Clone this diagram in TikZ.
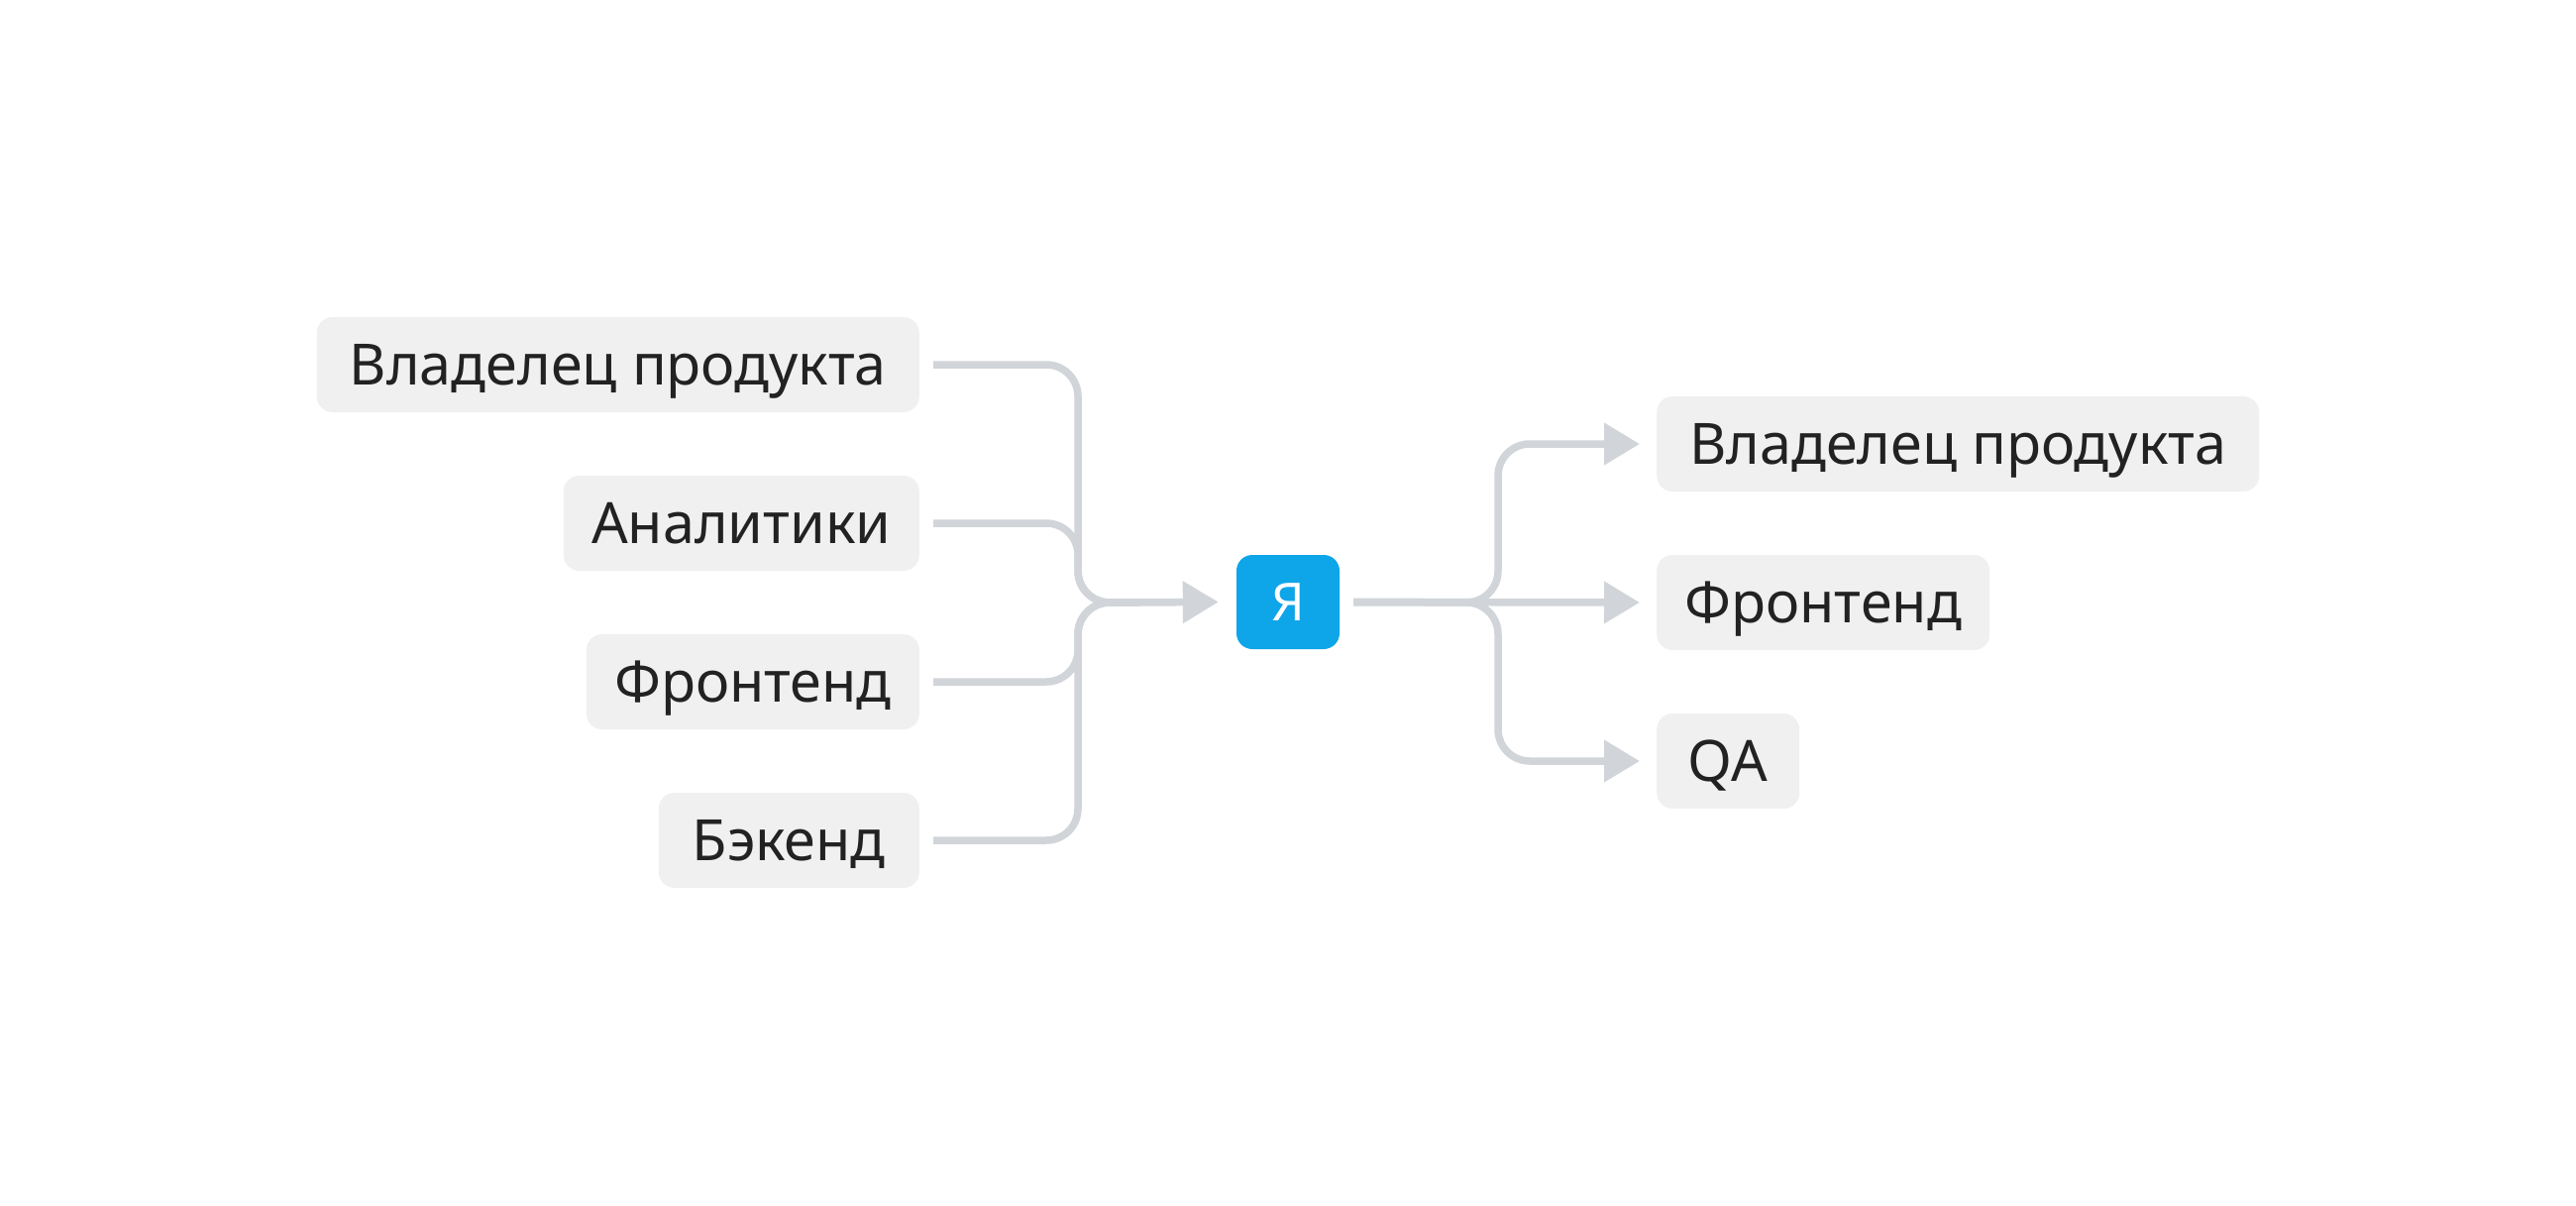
\documentclass[tikz,border=0pt]{standalone}
\usepackage{fontspec}
\setmainfont{Noto Sans}
\usetikzlibrary{arrows.meta,calc}
\definecolor{boxfill}{HTML}{F0F0F0}
\definecolor{linegray}{HTML}{D1D5D9}
\definecolor{txt}{HTML}{222222}
\definecolor{meblue}{HTML}{0EA5E9}
\tikzset{
  rolebox/.style={fill=boxfill, rounded corners=16pt, inner sep=0pt, minimum height=96pt,
    text=txt, font=\fontsize{57.5pt}{62pt}\selectfont, text height=41pt, text depth=0pt, align=center},
  mebox/.style={fill=meblue, rounded corners=16pt, inner sep=0pt, minimum width=104pt, minimum height=95pt,
    text=white, font=\fontsize{53pt}{56pt}\selectfont, text height=38pt, text depth=0pt},
  conn/.style={draw=linegray, line width=7.5pt, rounded corners=32pt,
    -{Triangle[length=36pt,width=41pt]}},
  connplain/.style={draw=linegray, line width=7.5pt, rounded corners=32pt},
}
\begin{document}
\begin{tikzpicture}[x=1pt,y=-1pt]
\fill[white] (0,0) rectangle (2600,1216);
\useasboundingbox (0,0) rectangle (2600,1216);

% left boxes
\node[rolebox, minimum width=608pt, anchor=east] (L1) at (928,368) {Владелец продукта};
\node[rolebox, minimum width=359pt, anchor=east] (L2) at (928,528) {Аналитики};
\node[rolebox, minimum width=336pt, anchor=east] (L3) at (928,688) {Фронтенд};
\node[rolebox, minimum width=263pt, anchor=east] (L4) at (928,848) {Бэкенд};

% centre
\node[mebox] (me) at (1300,607.5) {Я};

% right boxes
\node[rolebox, minimum width=608pt, anchor=west] (R1) at (1672,448) {Владелец продукта};
\node[rolebox, minimum width=336pt, anchor=west] (R2) at (1672,608) {Фронтенд};
\node[rolebox, minimum width=144pt, anchor=west] (R3) at (1672,768) {QA};

% junctions
\coordinate (jl) at (1088,608);
\coordinate (jlm) at (1150,608);
\coordinate (jr) at (1512,608);
\coordinate (inL) at ($(me.west)+(-18,0)$);

% left connectors
\draw[connplain] ($(L1.east)+(14,0)$) -| (jl) -- (jlm);
\draw[connplain] ($(L2.east)+(14,0)$) -| (jl) -- (jlm);
\draw[connplain] ($(L3.east)+(14,0)$) -| (jl) -- (jlm);
\draw[connplain] ($(L4.east)+(14,0)$) -| (jl) -- (jlm);
\draw[conn] ($(jlm)+(-10,0)$) -- (inL);

% right connectors
\draw[conn] ($(me.east)+(14,0)$) -- (jr) |- ($(R1.west)+(-17,0)$);
\draw[conn] ($(me.east)+(14,0)$) -- ($(R2.west)+(-17,0)$);
\draw[conn] ($(me.east)+(14,0)$) -- (jr) |- ($(R3.west)+(-17,0)$);
\end{tikzpicture}
\end{document}
